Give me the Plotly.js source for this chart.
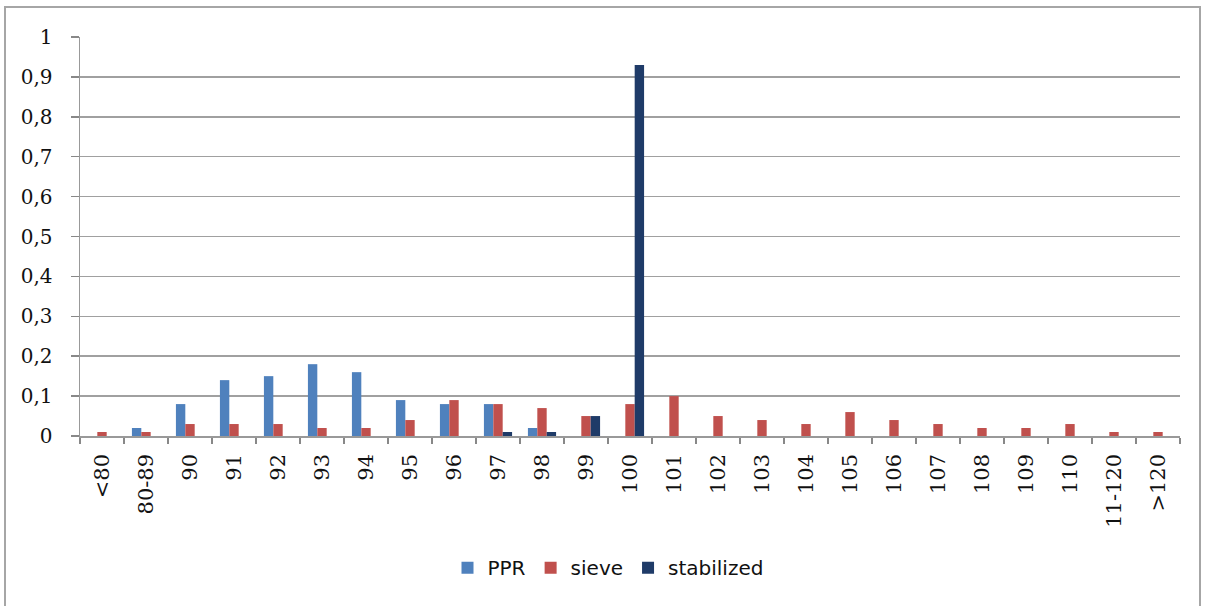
<!DOCTYPE html>
<html>
<head>
<meta charset="utf-8">
<script src="https://cdn.plot.ly/plotly-3.0.1.min.js"></script>
<style>
  html, body { margin: 0; padding: 0; background: #fff; }
  #wrap { position: relative; width: 1205px; height: 606px; overflow: hidden; }
  #frame { position: absolute; left: 4px; top: 6px; width: 1197px; height: 640px; border: 2px solid #a6a6a6; box-sizing: border-box; }
  #chart { position: absolute; left: 0; top: 0; width: 1205px; height: 606px; }
</style>
</head>
<body>
<div id="wrap">
  <div id="frame"></div>
  <div id="chart"></div>
</div>
<script>
const categories = ["<80","80-89","90","91","92","93","94","95","96","97","98","99","100","101","102","103","104","105","106","107","108","109","110","11-120",">120"];
const ppr        = [0, 0.02, 0.08, 0.14, 0.15, 0.18, 0.16, 0.09, 0.08, 0.08, 0.02, 0, 0, 0, 0, 0, 0, 0, 0, 0, 0, 0, 0, 0, 0];
const sieve      = [0.01, 0.01, 0.03, 0.03, 0.03, 0.02, 0.02, 0.04, 0.09, 0.08, 0.07, 0.05, 0.08, 0.10, 0.05, 0.04, 0.03, 0.06, 0.04, 0.03, 0.02, 0.02, 0.03, 0.01, 0.01];
const stabilized = [0, 0, 0, 0, 0, 0, 0, 0, 0, 0.01, 0.01, 0.05, 0.93, 0, 0, 0, 0, 0, 0, 0, 0, 0, 0, 0, 0];
const yTicks = [0, 0.1, 0.2, 0.3, 0.4, 0.5, 0.6, 0.7, 0.8, 0.9, 1];

const SERIF = "'DejaVu Serif', 'Liberation Serif', serif";

const data = [
  {type: "bar", name: "PPR", x: categories, y: ppr, marker: {color: "#4F81BD"}},
  {type: "bar", name: "sieve", x: categories, y: sieve, marker: {color: "#C0504D"}},
  {type: "bar", name: "stabilized", x: categories, y: stabilized, marker: {color: "#1F3B68"}}
];

const layout = {
  width: 1205, height: 606,
  paper_bgcolor: "rgba(0,0,0,0)", plot_bgcolor: "rgba(0,0,0,0)",
  margin: {l: 80, r: 25, t: 37, b: 170},
  separators: ",.",
  barmode: "group",
  bargap: 0.36, bargroupgap: 0,
  showlegend: true,
  font: {family: SERIF},
  legend: {orientation: "h", x: 0.48, xanchor: "center", y: -0.33, yanchor: "middle",
           font: {family: "'DejaVu Sans', sans-serif", size: 20, color: "#111"},
           itemwidth: 30, traceorder: "normal"},
  xaxis: {
    type: "category", tickangle: -90,
    tickfont: {family: SERIF, size: 21, color: "#111"},
    ticks: "outside", tickson: "boundaries", ticklen: 6, tickcolor: "#888", tickwidth: 1.5,
    ticklabelstandoff: 8,
    showline: true, linecolor: "#999", linewidth: 1.5,
    showgrid: false, zeroline: false, fixedrange: true
  },
  yaxis: {
    range: [0, 1], tickvals: yTicks, tickformat: ".1~f",
    tickfont: {family: SERIF, size: 20, color: "#111"},
    ticks: "outside", ticklen: 8, tickcolor: "#888", tickwidth: 1.5,
    ticklabelstandoff: 14,
    showline: true, linecolor: "#999", linewidth: 1.5,
    showgrid: true, gridcolor: "#a0a0a0", gridwidth: 1.5,
    zeroline: false, fixedrange: true
  }
};

Plotly.newPlot("chart", data, layout, {displayModeBar: false, staticPlot: true});
</script>
</body>
</html>
